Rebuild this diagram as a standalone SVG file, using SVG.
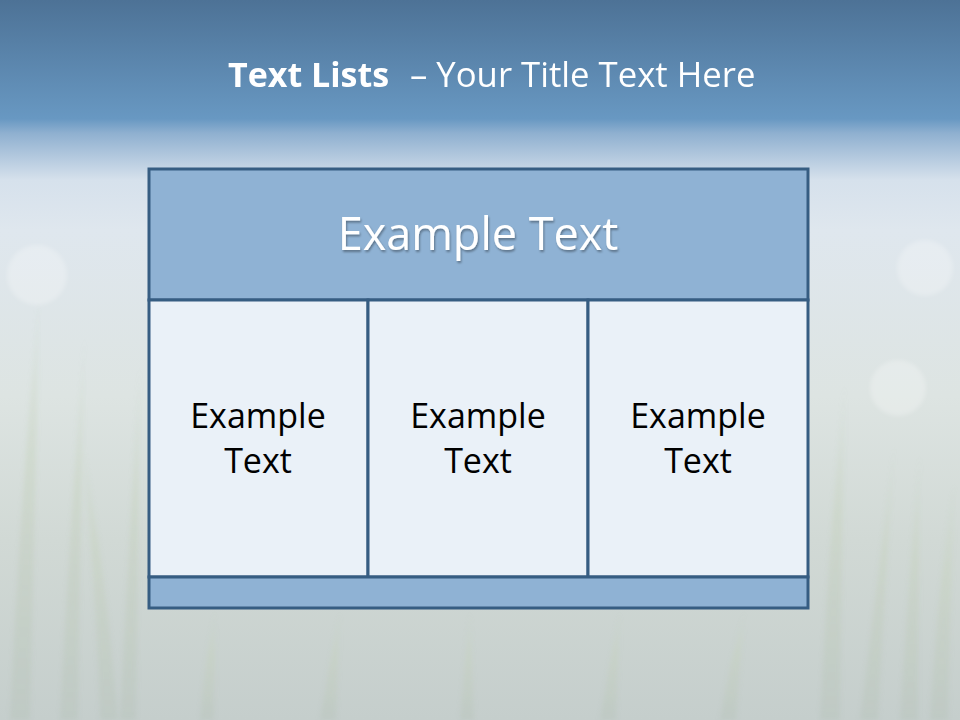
<svg xmlns="http://www.w3.org/2000/svg" width="960" height="720" viewBox="0 0 960 720">
<defs>
<linearGradient id="bg" x1="0" y1="0" x2="0" y2="1">
<stop offset="0" stop-color="#4d7296"/>
<stop offset="0.165" stop-color="#6898c2"/>
<stop offset="0.185" stop-color="#8fb0d0"/>
<stop offset="0.25" stop-color="#d6e1ec"/>
<stop offset="0.32" stop-color="#dfe7ee"/>
<stop offset="0.55" stop-color="#dde4e2"/>
<stop offset="0.75" stop-color="#d1d9d5"/>
<stop offset="1" stop-color="#c5cecc"/>
</linearGradient>
<linearGradient id="blade" x1="0" y1="0" x2="0" y2="1">
<stop offset="0" stop-color="#c9d6c4" stop-opacity="0"/>
<stop offset="0.4" stop-color="#c6d2bd" stop-opacity="0.4"/>
<stop offset="1" stop-color="#b9c5bd" stop-opacity="0.5"/>
</linearGradient>
<filter id="sh" x="-10%" y="-10%" width="120%" height="130%">
<feDropShadow dx="1" dy="2" stdDeviation="1" flood-color="#000" flood-opacity="0.35"/>
</filter>
<filter id="blur"><feGaussianBlur stdDeviation="2"/></filter>
<style>
.box{stroke:#365d82;stroke-width:3}
.hdr{fill:#8fb2d4}
.cell{fill:#eaf1f8}
.t{font-family:"Open Sans","Noto Sans",sans-serif}
.c{text-anchor:middle}
.bk{fill:#ffffff;opacity:0.25}
.gr{fill:url(#blade)}
</style>
</defs>
<rect width="960" height="720" fill="url(#bg)"/>
<g filter="url(#blur)">
<circle class="bk" cx="37" cy="275" r="30"/>
<circle class="bk" cx="925" cy="268" r="28"/>
<circle class="bk" cx="898" cy="388" r="28"/>
<path class="gr" d="M10 720 Q20 500 40 280 Q35 500 30 720Z"/>
<path class="gr" d="M60 720 Q70 520 85 330 Q80 520 78 720Z"/>
<path class="gr" d="M100 720 Q95 560 80 430 Q105 560 118 720Z"/>
<path class="gr" d="M120 720 Q130 520 140 360 Q138 540 136 720Z"/>
<path class="gr" d="M820 720 Q830 520 845 380 Q842 540 840 720Z"/>
<path class="gr" d="M860 720 Q880 560 895 440 Q885 580 878 720Z"/>
<path class="gr" d="M900 720 Q910 560 920 450 Q918 600 918 720Z"/>
<path class="gr" d="M930 720 Q940 560 955 480 Q950 600 948 720Z"/>
<path class="gr" d="M200 720 Q205 660 215 610 Q215 660 214 720Z"/>
<path class="gr" d="M320 720 Q330 660 340 610 Q338 660 336 720Z"/>
<path class="gr" d="M460 720 Q465 660 470 610 Q472 660 474 720Z"/>
<path class="gr" d="M600 720 Q610 660 620 610 Q618 660 616 720Z"/>
<path class="gr" d="M720 720 Q730 660 745 610 Q740 660 736 720Z"/>
</g>
<text x="228" y="87" class="t" fill="#ffffff" font-size="34" font-weight="bold">Text Lists</text>
<text x="410" y="87" class="t" fill="#ffffff" font-size="34.7">– Your Title Text Here</text>
<g id="header">
<rect class="box hdr" x="149" y="169" width="659" height="131"/>
<text x="478" y="250" class="t c" fill="#ffffff" font-size="45" filter="url(#sh)">Example Text</text>
</g>
<g id="col1">
<rect class="box cell" x="149" y="300" width="219" height="277"/>
<text class="t c" fill="#000" font-size="34"><tspan x="258" y="428">Example</tspan><tspan x="258" y="473">Text</tspan></text>
</g>
<g id="col2">
<rect class="box cell" x="368" y="300" width="220" height="277"/>
<text class="t c" fill="#000" font-size="34"><tspan x="478" y="428">Example</tspan><tspan x="478" y="473">Text</tspan></text>
</g>
<g id="col3">
<rect class="box cell" x="588" y="300" width="220" height="277"/>
<text class="t c" fill="#000" font-size="34"><tspan x="698" y="428">Example</tspan><tspan x="698" y="473">Text</tspan></text>
</g>
<g id="footer">
<rect class="box hdr" x="149" y="577" width="659" height="31"/>
</g>
<g id="connectors"/>
</svg>
